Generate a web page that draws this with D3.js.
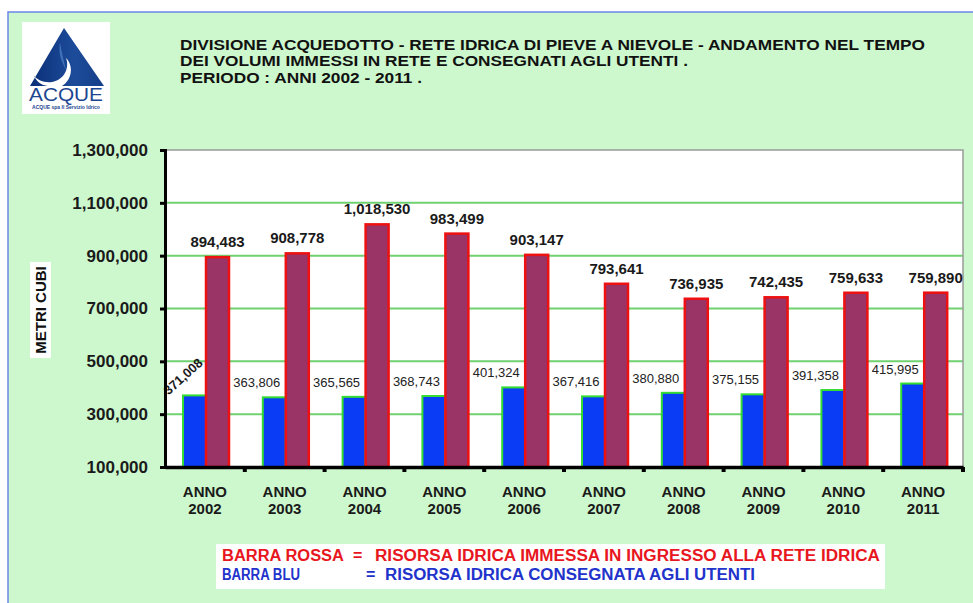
<!DOCTYPE html>
<html>
<head>
<meta charset="utf-8">
<script src="https://cdn.jsdelivr.net/npm/d3@7"></script>
<style>
  html, body { margin: 0; padding: 0; background: #ffffff; }
  svg { display: block; font-family: "Liberation Sans", Arial, sans-serif; }
</style>
</head>
<body>
<svg id="chart" width="973" height="603"></svg>
<script>
// ---- data ----
const years = ["2002","2003","2004","2005","2006","2007","2008","2009","2010","2011"];
const consegnata = [371008, 363806, 365565, 368743, 401324, 367416, 380880, 375155, 391358, 415995]; // blue
const immessa = [894483, 908778, 1018530, 983499, 903147, 793641, 736935, 742435, 759633, 759890];   // red
const yTicks = [100000, 300000, 500000, 700000, 900000, 1100000, 1300000];
const titleLines = [
  "DIVISIONE ACQUEDOTTO - RETE IDRICA DI PIEVE A NIEVOLE - ANDAMENTO NEL TEMPO",
  "DEI VOLUMI IMMESSI IN RETE E CONSEGNATI AGLI UTENTI .",
  "PERIODO : ANNI 2002 - 2011 ."
];
const legendRows = [
  {name: "BARRA ROSSA", desc: "RISORSA IDRICA IMMESSA IN INGRESSO ALLA RETE IDRICA"},
  {name: "BARRA BLU", desc: "RISORSA IDRICA CONSEGNATA AGLI UTENTI"}
];

(function () {
const svg = d3.select("#chart");
const fmt = d3.format(",");

// ---- background frame ----
svg.append("rect").attr("x", 8).attr("y", 12).attr("width", 1000).attr("height", 640)
  .attr("fill", "#cdf7cd").attr("stroke", "#6b86e8").attr("stroke-width", 1.5);

// ---- logo ----
const logo = svg.append("g");
logo.append("rect").attr("x", 22).attr("y", 22).attr("width", 88).attr("height", 92).attr("fill", "#ffffff");
const grad = svg.append("defs").append("linearGradient").attr("id", "lg").attr("x1", 0).attr("y1", 0).attr("x2", 1).attr("y2", 0);
grad.append("stop").attr("offset", "0%").attr("stop-color", "#0b2f78");
grad.append("stop").attr("offset", "60%").attr("stop-color", "#1d4c9a");
grad.append("stop").attr("offset", "100%").attr("stop-color", "#153e88");
logo.append("path")
  .attr("d", "M64,28 L104,86 L62,86 C72,80 74,66 66,58 C70,68 64,80 52,82 C44,83 38,80 34,76 C38,84 44,86 50,86 L30,86 Z")
  .attr("fill", "url(#lg)");
logo.append("path")
  .attr("d", "M60,42 C58,55 62,62 66,70 C64,62 62,54 60,42 Z").attr("fill", "#5b8fd0").attr("opacity", 0.6);
logo.append("text").attr("x", 66).attr("y", 101).attr("text-anchor", "middle")
  .attr("font-size", 19).attr("fill", "#1c4690").attr("textLength", 74).attr("lengthAdjust", "spacingAndGlyphs")
  .text("ACQUE");
logo.append("text").attr("x", 66).attr("y", 109).attr("text-anchor", "middle")
  .attr("font-size", 5).attr("fill", "#1c4690").attr("font-weight", "bold")
  .text("ACQUE spa Il Servizio Idrico");

// ---- title ----
const titleWidths = [745, 508, 242];
const titleY = [50, 66, 83];
titleLines.forEach((t, i) => {
  svg.append("text").attr("x", 180).attr("y", titleY[i])
    .attr("font-size", 14).attr("font-weight", "bold").attr("fill", "#111")
    .attr("textLength", titleWidths[i]).attr("lengthAdjust", "spacingAndGlyphs")
    .text(t);
});

// ---- scales ----
const pLeft = 165, pRight = 963, pTop = 150, pBottom = 467;
const x = d3.scaleBand().domain(years).range([pLeft, pRight]).paddingInner(0).paddingOuter(0);
const xi = d3.scaleBand().domain(["blu", "rossa"]).range([18, 64]);
const y = d3.scaleLinear().domain([100000, 1300000]).range([pBottom, pTop]);

// plot area
svg.append("rect").attr("x", pLeft).attr("y", pTop).attr("width", pRight - pLeft).attr("height", pBottom - pTop)
  .attr("fill", "#ffffff");
// gridlines
svg.append("g").selectAll("line").data(yTicks.filter(d => d > 100000 && d < 1300000)).join("line")
  .attr("x1", pLeft).attr("x2", pRight).attr("y1", d => y(d)).attr("y2", d => y(d))
  .attr("stroke", "#6fd16f").attr("stroke-width", 2);
// top / right border
svg.append("path").attr("d", `M${pLeft},${y(1300000)}H${pRight}V${pBottom}`)
  .attr("fill", "none").attr("stroke", "#9a9a9a").attr("stroke-width", 1.5);

// bars
const g = svg.append("g");
years.forEach((yr, i) => {
  const x0 = x(yr);
  g.append("rect")
    .attr("x", x0 + xi("blu")).attr("y", y(consegnata[i]))
    .attr("width", xi.bandwidth()).attr("height", y(100000) - y(consegnata[i]))
    .attr("fill", "#0a3cf5").attr("stroke", "#33dd33").attr("stroke-width", 2);
  g.append("rect")
    .attr("x", x0 + xi("rossa")).attr("y", y(immessa[i]))
    .attr("width", xi.bandwidth()).attr("height", y(100000) - y(immessa[i]))
    .attr("fill", "#9a3366").attr("stroke", "#ee1111").attr("stroke-width", 2.5);
});

// value labels
years.forEach((yr, i) => {
  const x0 = x(yr);
  const rx = x0 + xi("rossa") + xi.bandwidth() / 2;
  svg.append("text").attr("x", rx).attr("y", y(immessa[i]) - 10)
    .attr("text-anchor", "middle").attr("font-size", 15).attr("font-weight", "bold").attr("fill", "#1a1a1a")
    .text(fmt(immessa[i]));
  const bx = x0 + xi("blu") - 6;
  const by = y(consegnata[i]) - 10;
  if (i === 0) {
    svg.append("text").attr("transform", `translate(${x0 + 18},${y(consegnata[i]) - 19}) rotate(-42)`)
      .attr("text-anchor", "middle").attr("font-size", 13).attr("font-weight", "bold").attr("fill", "#1a1a1a")
      .attr("dy", "0.35em")
      .text(fmt(consegnata[i]));
  } else {
    svg.append("text").attr("x", bx).attr("y", by)
      .attr("text-anchor", "middle").attr("font-size", 13).attr("fill", "#222")
      .text(fmt(consegnata[i]));
  }
});

// y axis
const yAxis = svg.append("g").attr("transform", `translate(${pLeft},0)`)
  .call(d3.axisLeft(y).tickValues(yTicks).tickSize(5).tickPadding(12).tickFormat(d3.format(",")));
yAxis.select(".domain").attr("stroke", "#000").attr("stroke-width", 3);
yAxis.selectAll(".tick line").attr("stroke", "#000").attr("stroke-width", 3);
yAxis.selectAll(".tick text").attr("font-size", 17).attr("font-weight", "bold").attr("fill", "#1a1a1a")
  .attr("font-family", "Liberation Sans, Arial, sans-serif");

// x axis
const xAxis = svg.append("g").attr("transform", `translate(0,${pBottom})`)
  .call(d3.axisBottom(x).tickSize(0).tickFormat(""));
xAxis.select(".domain").attr("stroke", "#000").attr("stroke-width", 3.5);
xAxis.selectAll(".tick").remove();
svg.append("g").selectAll("rect").data(years.slice(1).concat(["end"])).join("rect")
  .attr("x", (d, i) => (i < years.length - 1 ? x(d) : pRight) - 2).attr("y", pBottom)
  .attr("width", 4).attr("height", 5).attr("fill", "#000");

// x labels
const xl = svg.append("g");
years.forEach(yr => {
  const cx = x(yr) + x.bandwidth() / 2;
  xl.append("text").attr("x", cx).attr("y", 497).attr("text-anchor", "middle")
    .attr("font-size", 15).attr("font-weight", "bold").attr("fill", "#1a1a1a").text("ANNO");
  xl.append("text").attr("x", cx).attr("y", 514).attr("text-anchor", "middle")
    .attr("font-size", 15).attr("font-weight", "bold").attr("fill", "#1a1a1a").text(yr);
});

// y axis title
svg.append("rect").attr("x", 30).attr("y", 262).attr("width", 21).attr("height", 96).attr("fill", "#ffffff");
svg.append("text").attr("transform", "translate(46,310) rotate(-90)")
  .attr("text-anchor", "middle").attr("font-size", 15).attr("font-weight", "bold").attr("fill", "#111")
  .text("METRI CUBI");

// legend
svg.append("rect").attr("x", 216).attr("y", 544).attr("width", 669).attr("height", 45).attr("fill", "#ffffff");
const legColors = ["#e8161e", "#2233cc"];
const nameW = [122, 78];
const eqX = [353, 366];
const descX = [375, 385];
const descW = [505, 370];
legendRows.forEach((r, i) => {
  const yy = 561 + i * 19;
  svg.append("text").attr("x", 222).attr("y", yy).attr("font-size", 16).attr("font-weight", "bold")
    .attr("fill", legColors[i]).attr("textLength", nameW[i]).attr("lengthAdjust", "spacingAndGlyphs").text(r.name);
  svg.append("text").attr("x", eqX[i]).attr("y", yy).attr("font-size", 16).attr("font-weight", "bold")
    .attr("fill", legColors[i]).text("=");
  svg.append("text").attr("x", descX[i]).attr("y", yy).attr("font-size", 16).attr("font-weight", "bold")
    .attr("fill", legColors[i]).attr("textLength", descW[i]).attr("lengthAdjust", "spacingAndGlyphs").text(r.desc);
});
})();
</script>
</body>
</html>
